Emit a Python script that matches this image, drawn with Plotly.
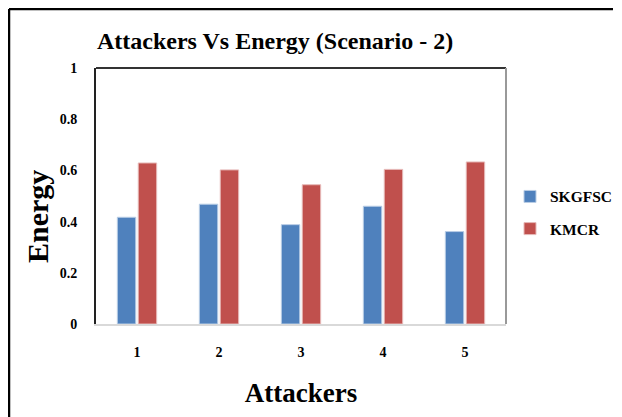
import plotly.graph_objects as go

categories = ["1", "2", "3", "4", "5"]
skgfsc = [0.417, 0.468, 0.388, 0.460, 0.361]
kmcr = [0.629, 0.602, 0.544, 0.604, 0.633]
y_ticks = [0, 0.2, 0.4, 0.6, 0.8, 1]
y_tick_labels = ["0", "0.2", "0.4", "0.6", "0.8", "1"]

FONT = "Liberation Serif"
W, H = 614, 409
L, R, T, B = 88, 116, 60, 93
PW, PH = W - L - R, H - T - B

fig = go.Figure()
fig.add_trace(go.Bar(x=categories, y=skgfsc, name="SKGFSC", marker_color="#4F81BD",
                     marker_line_color="#B9CDE5", marker_line_width=1, legendgroup="a"))
fig.add_trace(go.Bar(x=categories, y=kmcr, name="KMCR", marker_color="#C0504D",
                     marker_line_color="#E6B9B8", marker_line_width=1, legendgroup="b"))

fig.update_layout(
    width=W, height=H,
    margin=dict(l=L, r=R, t=T, b=B, autoexpand=False),
    paper_bgcolor="white", plot_bgcolor="white",
    barmode="group", bargap=0.49, bargroupgap=0.12,
    font=dict(family=FONT, color="black"),
    title=dict(text="<b>Attackers Vs Energy (Scenario - 2)</b>", x=89/W, xanchor="left",
               xref="container", y=1-33/H, yanchor="middle", yref="container",
               font=dict(family=FONT, size=24, color="black")),
    xaxis=dict(showline=True, linecolor="#D9D9D9", linewidth=2, ticks="", automargin=False,
               tickvals=categories, ticktext=["<b>%s</b>" % c for c in categories],
               tickfont=dict(family=FONT, size=14, color="black"), showgrid=False,
               ticklabelstandoff=14,
               title=dict(text="<b>Attackers</b>", font=dict(family=FONT, size=27), standoff=24)),
    yaxis=dict(range=[0, 1], tickvals=y_ticks, ticktext=["<b>%s</b>" % t for t in y_tick_labels],
               showline=True, linecolor="#222", linewidth=2, ticks="", showgrid=False,
               zeroline=False, tickfont=dict(family=FONT, size=14, color="black"),
               automargin=False, ticklabelstandoff=14),
    legend=dict(x=(502 - L) / PW, y=0.563, xanchor="left", yanchor="top", traceorder="grouped",
                tracegroupgap=9, font=dict(family=FONT, size=15.5, color="black"),
                itemwidth=30, bgcolor="rgba(0,0,0,0)"),
    annotations=[
        dict(text="<b>Energy</b>", textangle=-90, xref="paper", yref="paper",
             x=(29 - L) / PW, y=(316 - 209) / PH * 1.0, xanchor="center", yanchor="middle",
             showarrow=False, font=dict(family=FONT, size=30, color="black")),
    ],
    shapes=[
        dict(type="line", xref="paper", yref="paper", x0=0, x1=1, y0=1, y1=1,
             line=dict(color="#333", width=2)),
        dict(type="line", xref="paper", yref="paper", x0=1, x1=1, y0=0, y1=1,
             line=dict(color="#999", width=2)),
        dict(type="line", xref="paper", yref="paper",
             x0=(1 - L) / PW, x1=(605 - L) / PW, y0=(H - 1 - B) / PH, y1=(H - 1 - B) / PH,
             line=dict(color="black", width=2.5)),
        dict(type="line", xref="paper", yref="paper",
             x0=(1 - L) / PW, x1=(1 - L) / PW, y0=(H - 1 - B) / PH, y1=-B / PH,
             line=dict(color="black", width=2.5)),
    ],
)
fig.for_each_trace(lambda t: t.update(name="<b>%s</b>" % t.name))

fig.write_html("out.html")
